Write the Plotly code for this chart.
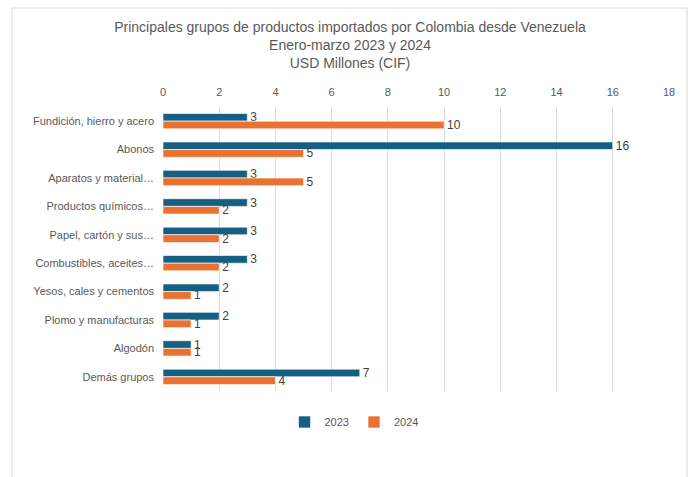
import plotly.graph_objects as go

categories = [
    "Fundición, hierro y acero",
    "Abonos",
    "Aparatos y material…",
    "Productos químicos…",
    "Papel, cartón y sus…",
    "Combustibles, aceites…",
    "Yesos, cales y cementos",
    "Plomo y manufacturas",
    "Algodón",
    "Demás grupos",
]
values_2023 = [3, 16, 3, 3, 3, 3, 2, 2, 1, 7]
values_2024 = [10, 5, 5, 2, 2, 2, 1, 1, 1, 4]
series_names = ["2023", "2024"]
x_ticks = [0, 2, 4, 6, 8, 10, 12, 14, 16, 18]

W, H = 692, 477
L, R, T, B = 163, 23, 107, 86
pw, ph = W - L - R, H - T - B

FONT = "Liberation Sans"
GRAY = "#595959"

fig = go.Figure()
for name, vals, color in [(series_names[0], values_2023, "#156082"),
                          (series_names[1], values_2024, "#E97132")]:
    fig.add_trace(go.Bar(
        y=categories, x=vals, name=name, orientation="h",
        marker=dict(color=color, line=dict(color="rgba(255,255,255,0.8)", width=0.8)),
        text=vals, texttemplate="%{x:.0f}", textposition="outside",
        textfont=dict(family=FONT, size=12, color="#404040"),
        cliponaxis=False,
    ))

fig.update_layout(
    width=W, height=H,
    margin=dict(l=L, r=R, t=T, b=B),
    paper_bgcolor="white", plot_bgcolor="white",
    barmode="group", bargap=0.46, bargroupgap=0,
    font=dict(family=FONT, color=GRAY, size=11),
    uniformtext=dict(mode="show", minsize=12),
    title=dict(
        text="Principales grupos de productos importados por Colombia desde Venezuela<br>Enero-marzo 2023 y 2024<br>USD Millones (CIF)",
        x=350 / W, xanchor="center", xref="container",
        y=1 - 32 / H, yanchor="top", yref="container",
        font=dict(family=FONT, size=14, color=GRAY),
    ),
    xaxis=dict(
        side="top", range=[0, 18], tickvals=x_ticks,
        showgrid=True, gridcolor="#d9d9d9", gridwidth=1,
        zeroline=False, showline=False, ticks="",
        ticklabelstandoff=8,
        tickfont=dict(family=FONT, size=11, color=GRAY),
    ),
    yaxis=dict(
        autorange="reversed", showgrid=False, zeroline=False, showline=False,
        ticks="", ticklabelstandoff=8,
        tickfont=dict(family=FONT, size=11, color=GRAY),
    ),
    legend=dict(
        orientation="h", x=(354 - L) / pw, xanchor="center",
        y=(H - B - 422) / ph, yanchor="middle",
        font=dict(family=FONT, size=11, color=GRAY),
        itemwidth=30, traceorder="normal",
    ),
    showlegend=True,
)

fig.add_shape(
    type="rect", xref="paper", yref="paper",
    x0=(12 - L) / pw, x1=(687 - L) / pw,
    y0=-0.6, y1=(H - B - 8) / ph,
    line=dict(color="#d9d9d9", width=1), fillcolor="rgba(0,0,0,0)",
    layer="below",
)

fig.write_html("out.html", config={"displayModeBar": False},
               post_script="document.body.style.margin='0';")
